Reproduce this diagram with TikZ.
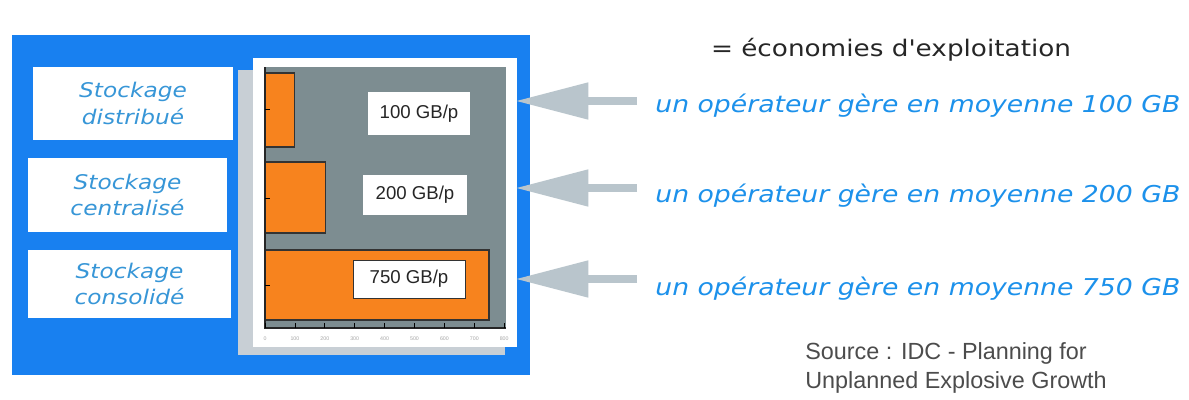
\documentclass[tikz,border=0pt]{standalone}
\usepackage{fontspec}
\usetikzlibrary{positioning, arrows.meta}
\newfontfamily\comicfont{DejaVu Sans}[FakeStretch=1.15]
\newfontfamily\arialfont{Liberation Sans}

\definecolor{panelBlue}{RGB}{24,128,240}
\definecolor{labelBlue}{RGB}{55,150,215}
\definecolor{textBlue}{RGB}{28,145,235}
\definecolor{arrowGray}{RGB}{185,197,204}
\definecolor{plotGray}{RGB}{125,141,145}
\definecolor{barOrange}{RGB}{247,131,30}
\definecolor{shadowGray}{RGB}{200,207,213}

\tikzstyle{bluePanel} = [
    rectangle,
    fill=panelBlue,
    minimum width=10.36cm,
    minimum height=6.8cm
    ]
\tikzstyle{labelBox} = [
    rectangle,
    fill=white,
    text=labelBlue,
    align=center,
    font=\comicfont\itshape\fontsize{11.5}{15}\selectfont
    ]
\tikzstyle{valueBox} = [
    rectangle,
    fill=white,
    text=black!85,
    font=\arialfont\fontsize{10.6}{12}\selectfont
    ]
\tikzstyle{bar} = [
    fill=barOrange,
    draw=black!80,
    line width=0.6pt
    ]
\tikzstyle{grayArrow} = [
    draw=arrowGray,
    line width=0.16cm,
    -{Triangle[length=1.46cm, width=0.7cm]}
    ]
\tikzstyle{operText} = [
    anchor=west,
    inner sep=0pt,
    text=textBlue,
    font=\comicfont\itshape\fontsize{13.2}{15}\selectfont
    ]

\begin{document}
\begin{tikzpicture}[x=0.02cm, y=-0.02cm]
      \useasboundingbox (0,0) rectangle (1189,399);
      \fill[white] (0,0) rectangle (1189,399);
      \node[bluePanel] (panel) at (271,205) {};

      % chart
      \fill[shadowGray] (238,70) rectangle (505,355);
      \fill[white] (253,58) rectangle (517,347);
      \fill[plotGray] (265,67) rectangle (506,328);
      \draw[bar] (265,73) rectangle (294.5,147);
      \draw[bar] (265,162) rectangle (325.5,233);
      \draw[bar] (265,250) rectangle (489,320);
      \draw[black!85, line width=1.2pt] (265,67) -- (265,328) -- (506,328);
      \foreach \y in {109,198,285}
        \draw[black] (265,\y) -- (270,\y);
      \foreach \k in {0,...,8} {
        \draw[black] (265+29.9*\k,328) -- (265+29.9*\k,323);
        \node[text=black!35, font=\arialfont\fontsize{3}{3}\selectfont] (tick\k) at (265+29.9*\k,339) {\pgfmathparse{int(100*\k)}\pgfmathresult};
      }
      \node[valueBox, minimum width=2.04cm, minimum height=0.86cm] (val1) at (419,113.5) {100 GB/p};
      \node[valueBox, minimum width=2.08cm, minimum height=0.8cm] (val2) at (415,195) {200 GB/p};
      \node[valueBox, draw=black!80, minimum width=2.24cm, minimum height=0.76cm] (val3) at (409,279) {750 GB/p};

      % storage types
      \node[labelBox, minimum width=4cm, minimum height=1.46cm] (distrib) at (133,103.5) {Stockage\\distribué};
      \node[labelBox, minimum width=3.98cm, minimum height=1.48cm] (central) at (127.5,195) {Stockage\\centralisé};
      \node[labelBox, minimum width=4.06cm, minimum height=1.36cm] (consol) at (129.5,284) {Stockage\\consolidé};

      % right side
      \node[font=\comicfont\fontsize{13}{15}\selectfont, text=black!85] (gain) at (891,50) {= économies d'exploitation};
      \node[operText] (op1) at (655,106) {un opérateur gère en moyenne 100 GB};
      \node[operText] (op2) at (655,196) {un opérateur gère en moyenne 200 GB};
      \node[operText] (op3) at (655,289) {un opérateur gère en moyenne 750 GB};
      \coordinate (s1) at (637,101);
      \coordinate (s2) at (637,188);
      \coordinate (s3) at (637,279);
      \draw[grayArrow, shorten >=-0.3cm] (s1) -- (s1 -| panel.east);
      \draw[grayArrow, shorten >=-0.3cm] (s2) -- (s2 -| panel.east);
      \draw[grayArrow, shorten >=-0.3cm] (s3) -- (s3 -| panel.east);
      \node[anchor=north west, align=left, inner sep=0pt, text=black!70,
            font=\arialfont\fontsize{13.3}{16.5}\selectfont] (src) at (805,342) {Source : IDC - Planning for\\Unplanned Explosive Growth};
    \end{tikzpicture}
\end{document}
